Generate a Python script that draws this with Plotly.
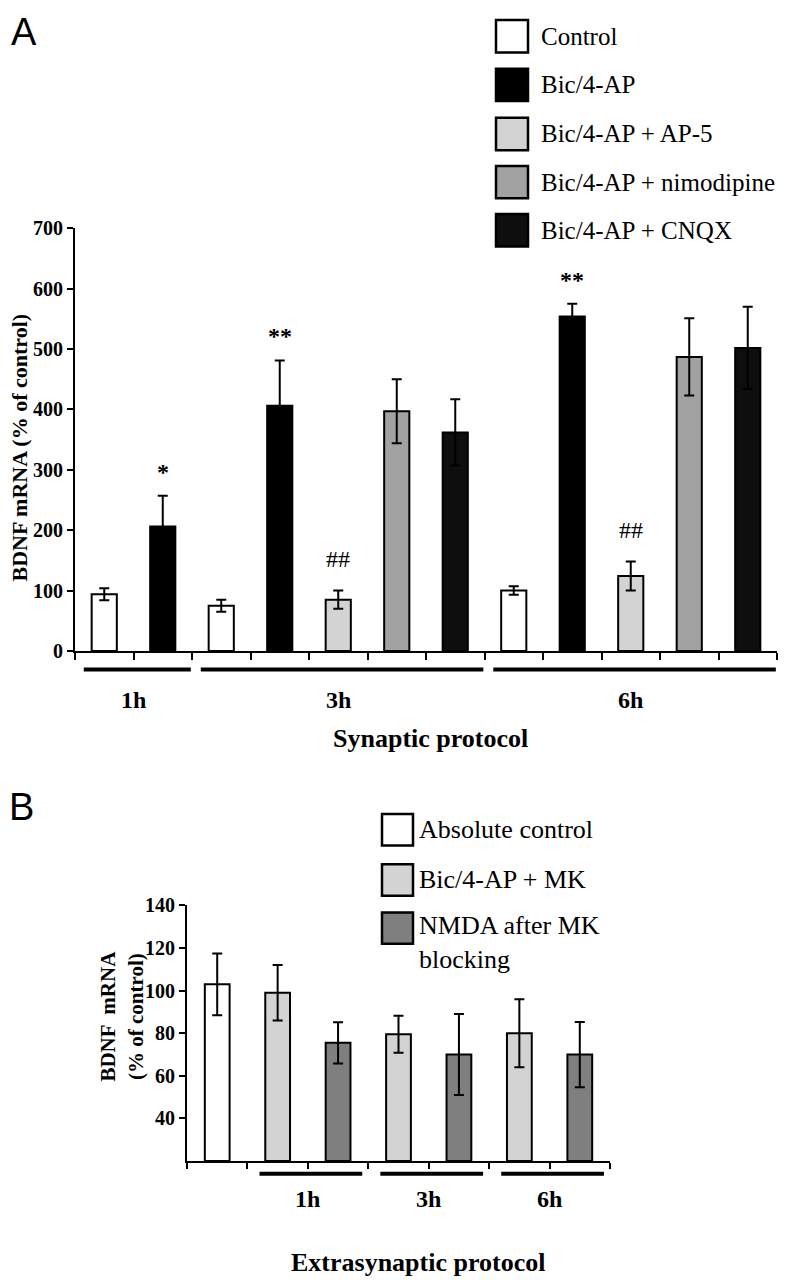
import plotly.graph_objects as go

W, H = 792, 1280

# ---------------- Panel A data ----------------
timepoints_A = ["1h", "3h", "6h"]
treatments_A = ["Control", "Bic/4-AP", "Bic/4-AP + AP-5", "Bic/4-AP + nimodipine", "Bic/4-AP + CNQX"]
colors_A = ["#ffffff", "#000000", "#d3d3d3", "#a2a2a2", "#0e0e0e"]
control_A = [94, 75, 100]
control_A_err = [10, 10, 7]
bic_A = [206, 406, 554]
bic_A_err = [51, 75, 21]
ap5_A = [None, 85, 124]
ap5_A_err = [None, 15, 24]
nimo_A = [None, 397, 487]
nimo_A_err = [None, 53, 64]
cnqx_A = [None, 362, 502]
cnqx_A_err = [None, 55, 68]
sig_A = {("Bic/4-AP", "1h"): "*", ("Bic/4-AP", "3h"): "**", ("Bic/4-AP + AP-5", "3h"): "##",
         ("Bic/4-AP", "6h"): "**", ("Bic/4-AP + AP-5", "6h"): "##"}
yticks_A = [0, 100, 200, 300, 400, 500, 600, 700]

# ---------------- Panel B data ----------------
timepoints_B = ["1h", "3h", "6h"]
treatments_B = ["Absolute control", "Bic/4-AP + MK", "NMDA after MK<br>blocking"]
colors_B = ["#ffffff", "#d3d3d3", "#7f7f7f"]
abs_control_B = [103]
abs_control_B_err = [14.5]
bicmk_B = [99, 79.5, 80]
bicmk_B_err = [13, 8.7, 16]
nmda_B = [75.5, 70, 70]
nmda_B_err = [9.7, 19, 15.3]
yticks_B = [40, 60, 80, 100, 120, 140]
ybase_B = 20

SERIF = "Liberation Serif, Times New Roman, serif"
SANS = "Liberation Sans, Arial, sans-serif"


def px(x):
    return x / W


def py(y):
    return 1 - y / H


fig = go.Figure()
annots = []
shapes = []

# ---- build slot layout for A ----
series_A = [control_A, bic_A, ap5_A, nimo_A, cnqx_A]
errs_A = [control_A_err, bic_A_err, ap5_A_err, nimo_A_err, cnqx_A_err]
slot = 0
xs = {t: [] for t in treatments_A}
ys = {t: [] for t in treatments_A}
es = {t: [] for t in treatments_A}
groups_A = []
for ti, tp in enumerate(timepoints_A):
    start = slot
    for k, tr in enumerate(treatments_A):
        v = series_A[k][ti]
        if v is None:
            continue
        xs[tr].append(slot + 0.5)
        ys[tr].append(v)
        es[tr].append(errs_A[k][ti])
        if (tr, tp) in sig_A:
            lab = sig_A[(tr, tp)]
            star = "*" in lab
            annots.append(dict(x=slot + 0.5, y=v + errs_A[k][ti] + (40 if star else 52), xref="x", yref="y",
                               text=("<b>%s</b>" % lab) if star else lab, showarrow=False,
                               font=dict(family=SERIF, size=24, color="black"),
                               yanchor="middle"))
        slot += 1
    groups_A.append((tp, start, slot))
nslots_A = slot

for k, tr in enumerate(treatments_A):
    fig.add_trace(go.Bar(x=xs[tr], y=ys[tr], width=0.43, name=tr, xaxis="x", yaxis="y",
                         marker=dict(color=colors_A[k], line=dict(color="black", width=2)),
                         error_y=dict(type="data", array=es[tr], color="black", thickness=2, width=5),
                         showlegend=False))

# ---- B ----
slot = 0
xb = {t: [] for t in treatments_B}
yb = {t: [] for t in treatments_B}
eb = {t: [] for t in treatments_B}
xb[treatments_B[0]].append(slot + 0.5)
yb[treatments_B[0]].append(abs_control_B[0])
eb[treatments_B[0]].append(abs_control_B_err[0])
slot += 1
groups_B = []
for ti, tp in enumerate(timepoints_B):
    start = slot
    for tr, vals, errs in [(treatments_B[1], bicmk_B, bicmk_B_err), (treatments_B[2], nmda_B, nmda_B_err)]:
        xb[tr].append(slot + 0.5)
        yb[tr].append(vals[ti])
        eb[tr].append(errs[ti])
        slot += 1
    groups_B.append((tp, start, slot))
nslots_B = slot

for k, tr in enumerate(treatments_B):
    fig.add_trace(go.Bar(x=xb[tr], y=[v - ybase_B for v in yb[tr]], base=ybase_B, width=0.41, name=tr,
                         xaxis="x2", yaxis="y2",
                         marker=dict(color=colors_B[k], line=dict(color="black", width=2)),
                         error_y=dict(type="data", array=eb[tr], color="black", thickness=2, width=5),
                         showlegend=False))

# ---- axes ----
A_x0, A_x1, A_ytop, A_ybot = 67, 769, 213, 643
B_x0, B_x1, B_ytop, B_ybot = 179, 602, 902, 1162

axis_common = dict(showline=True, linecolor="black", linewidth=2, ticks="outside",
                   tickcolor="black", tickwidth=2, showgrid=False, zeroline=False)

fig.update_layout(
    width=W, height=H, margin=dict(l=0, r=0, t=0, b=0),
    paper_bgcolor="white", plot_bgcolor="white", barmode="overlay",
    xaxis=dict(domain=[px(A_x0), px(A_x1)], range=[0, nslots_A], tickvals=list(range(nslots_A + 1)),
               showticklabels=False, ticklen=7, anchor="y", **axis_common),
    yaxis=dict(domain=[py(A_ybot), py(A_ytop)], range=[0, 700], tickvals=yticks_A, ticklen=6,
               tickfont=dict(family=SERIF, size=20, color="black", weight="bold"), anchor="x", **axis_common),
    xaxis2=dict(domain=[px(B_x0), px(B_x1)], range=[0, nslots_B], tickvals=list(range(nslots_B + 1)),
                showticklabels=False, ticklen=6, anchor="y2", **axis_common),
    yaxis2=dict(domain=[py(B_ybot), py(B_ytop)], range=[ybase_B, 140], tickvals=yticks_B, ticklen=6,
                tickfont=dict(family=SERIF, size=20, color="black", weight="bold"), anchor="x2", **axis_common),
)

# group lines and labels A
for tp, s, e in groups_A:
    shapes.append(dict(type="line", xref="x", yref="paper", x0=s + 0.15, x1=e - 0.02,
                       y0=py(662), y1=py(662), line=dict(color="black", width=4)))
    annots.append(dict(x=(s + e) / 2, y=py(693), xref="x", yref="paper", text="<b>%s</b>" % tp, showarrow=False,
                       font=dict(family=SERIF, size=24, color="black"), yanchor="middle"))
annots.append(dict(x=px((A_x0 + A_x1) / 2 + 4), y=py(732), xref="paper", yref="paper",
                   text="<b>Synaptic protocol</b>", showarrow=False,
                   font=dict(family=SERIF, size=26, color="black"), yanchor="middle"))

# group lines and labels B
for tp, s, e in groups_B:
    shapes.append(dict(type="line", xref="x2", yref="paper", x0=s + 0.2, x1=e - 0.1,
                       y0=py(1175), y1=py(1175), line=dict(color="black", width=4)))
    annots.append(dict(x=(s + e) / 2, y=py(1201), xref="x2", yref="paper", text="<b>%s</b>" % tp, showarrow=False,
                       font=dict(family=SERIF, size=24, color="black"), yanchor="middle"))
annots.append(dict(x=px(410), y=py(1265), xref="paper", yref="paper",
                   text="<b>Extrasynaptic protocol</b>", showarrow=False,
                   font=dict(family=SERIF, size=26, color="black"), yanchor="middle"))

# y titles
annots.append(dict(x=px(12), y=py(436), xref="paper", yref="paper", text="<b>BDNF mRNA (% of control)</b>",
                   textangle=-90, showarrow=False, xanchor="center", yanchor="middle",
                   font=dict(family=SERIF, size=22, color="black")))
annots.append(dict(x=px(114), y=py(1015), xref="paper", yref="paper", text="<b>BDNF  mRNA<br>(% of control)</b>",
                   textangle=-90, showarrow=False, xanchor="center", yanchor="middle",
                   font=dict(family=SERIF, size=21, color="black")))

# panel letters
annots.append(dict(x=px(1), y=py(13), xref="paper", yref="paper", text="A", showarrow=False,
                   xanchor="left", yanchor="middle", font=dict(family=SANS, size=38, color="black")))
annots.append(dict(x=px(-1), y=py(802), xref="paper", yref="paper", text="B", showarrow=False,
                   xanchor="left", yanchor="middle", font=dict(family=SANS, size=38, color="black")))

# legend A
legA_y = [17.5, 67, 117, 166, 215]
for k, tr in enumerate(treatments_A):
    cy = legA_y[k]
    shapes.append(dict(type="rect", xref="paper", yref="paper", x0=px(488), x1=px(520),
                       y0=py(cy - 16.5), y1=py(cy + 16.5), fillcolor=colors_A[k],
                       line=dict(color="black", width=2.5)))
    annots.append(dict(x=px(531), y=py(cy), xref="paper", yref="paper", text=tr, showarrow=False,
                       xanchor="left", yanchor="middle", font=dict(family=SERIF, size=25, color="black")))

# legend B
legB_y = [825, 876, 925]
for k, tr in enumerate(treatments_B):
    cy = legB_y[k]
    shapes.append(dict(type="rect", xref="paper", yref="paper", x0=px(374), x1=px(405),
                       y0=py(cy - 16), y1=py(cy + 16), fillcolor=colors_B[k],
                       line=dict(color="black", width=2.5)))
    if "<br>" in tr:
        annots.append(dict(x=px(409), y=py(cy - 19), xref="paper", yref="paper", text=tr, showarrow=False,
                           xanchor="left", yanchor="top", align="left",
                           font=dict(family=SERIF, size=26, color="black")))
    else:
        annots.append(dict(x=px(409), y=py(cy), xref="paper", yref="paper", text=tr, showarrow=False,
                           xanchor="left", yanchor="middle", font=dict(family=SERIF, size=26, color="black")))

fig.update_layout(shapes=shapes)
for a in annots:
    fig.add_annotation(**a)

fig.write_html("out.html")
